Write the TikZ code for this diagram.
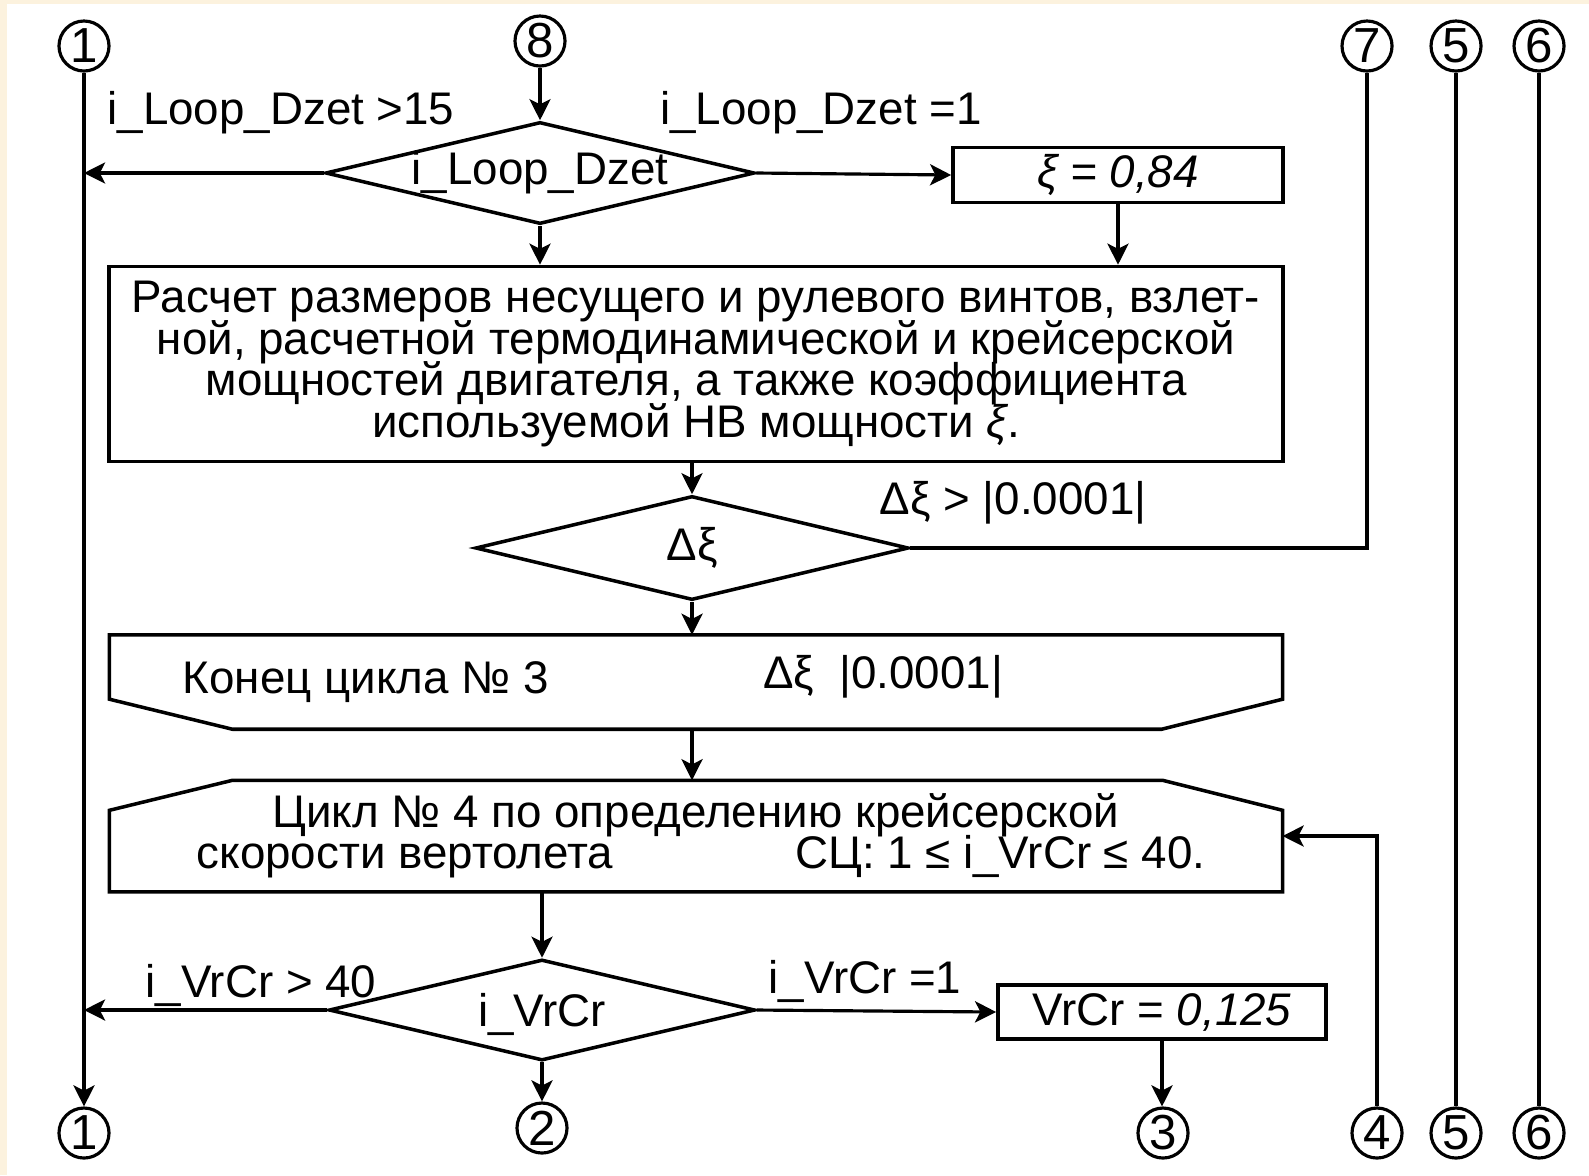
\documentclass[tikz,border=0pt]{standalone}
\usepackage{fontspec}
\setmainfont{Liberation Sans}
\usetikzlibrary{shapes.geometric,arrows.meta}
\definecolor{cream}{RGB}{252,242,222}
\newcommand\tightlines{\fontsize{13}{11.8}\selectfont\setlength{\lineskiplimit}{-20pt}}
\tikzset{
  blk/.style={draw, rectangle, line width=1pt, inner sep=0pt},
  decision/.style={draw, diamond, line width=1pt, inner sep=0pt},
  conn/.style={draw, circle, line width=0.9pt, inner sep=0pt, minimum size=0.5cm,
               font=\fontsize{14}{14}\selectfont},
  txt/.style={inner sep=0pt},
  tight/.style={font=\tightlines},
  line/.style={line width=0.9pt},
  arr/.style={line, -{Stealth[length=6pt, width=6pt, inset=1.5pt]}},
}
\begin{document}
\begin{tikzpicture}[x=0.01cm, y=-0.01cm, font=\fontsize{13}{12}\selectfont]
  \useasboundingbox (0,0) rectangle (1589,1175);
  \fill[cream] (0,0) rectangle (1589,1175);
  \fill[white] (7,4) rectangle (1589,1175);

  % connectors, top and bottom rows
  \node[conn] (c1t) at (84,46) {1};
  \node[conn] (c8) at (540,41) {8};
  \node[conn] (c7t) at (1367,46) {7};
  \node[conn] (c5t) at (1456,46) {5};
  \node[conn] (c6t) at (1539,46) {6};
  \node[conn] (c1b) at (84,1133) {1};
  \node[conn] (c2) at (542,1128) {2};
  \node[conn] (c3) at (1163,1133) {3};
  \node[conn] (c4) at (1377,1133) {4};
  \node[conn] (c5b) at (1456,1133) {5};
  \node[conn] (c6b) at (1539,1133) {6};

  % loop counter of Dzet
  \node[decision, minimum width=4.29cm, minimum height=1.02cm,
        label=center:{i\_Loop\_Dzet}] (dzet) at (540,173) {};
  \node[blk, minimum width=3.3cm, minimum height=0.55cm] (bxi) at (1118,175) {\textit{ξ = 0,84}};
  \node[txt] (lgt) at (281,113) {i\_Loop\_Dzet >15};
  \node[txt] (leq) at (821,113) {i\_Loop\_Dzet =1};

  \node[blk, tight, minimum width=11.73cm, minimum height=1.95cm, align=center] (calc) at (696,364)
    {Расчет размеров несущего и рулевого винтов, взлет-\\
     ной, расчетной термодинамической и крейсерской\\
     мощностей двигателя, а также коэффициента\\
     используемой НВ мощности \textit{ξ}.};

  \node[decision, minimum width=4.33cm, minimum height=1.04cm,
        label=center:{Δξ}] (dxi) at (692,548) {};
  \node[txt] (ldxi) at (1013,503) {Δξ > |0.0001|};

  % end of loop 3
  \node[minimum width=11.71cm, minimum height=0.93cm] (endl) at (696,682) {};
  \draw[line width=1pt] (endl.north west) -- (endl.north east)
    -- ([yshift=0.3cm]endl.south east) -- ([xshift=-1.21cm]endl.south east)
    -- ([xshift=1.23cm]endl.south west) -- ([yshift=0.3cm]endl.south west) -- cycle;
  \node[txt, anchor=west] (tendl) at (182,682) {Конец цикла № 3};
  \node[txt] (tendr) at (883,677) {Δξ~~|0.0001|};

  % loop 4
  \node[minimum width=11.71cm, minimum height=1.1cm] (cyc) at (696,836) {};
  \draw[line width=1pt] ([yshift=-0.3cm]cyc.north west) -- ([xshift=1.23cm]cyc.north west)
    -- ([xshift=-1.2cm]cyc.north east) -- ([yshift=-0.3cm]cyc.north east)
    -- (cyc.south east) -- (cyc.south west) -- cycle;
  \node[txt, anchor=base] (tcyc) at (696,827) {Цикл № 4 по определению крейсерской};
  \node[txt, anchor=base west] (tcycl) at (196,868) {скорости вертолета};
  \node[txt, anchor=base east] (tcycr) at (1206,868) {СЦ: 1 ≤ i\_VrCr ≤ 40.};

  \node[decision, minimum width=4.26cm, minimum height=1.01cm,
        label={[yshift=-0.04cm]center:i\_VrCr}] (vrcr) at (542,1010) {};
  \node[blk, minimum width=3.28cm, minimum height=0.54cm] (bvr) at (1162,1012) {VrCr = \textit{0,125}};
  \node[txt] (lvgt) at (261,985) {i\_VrCr > 40};
  \node[txt] (lveq) at (865,981) {i\_VrCr =1};

  % connections
  \draw[arr] (c1t) -- (c1b);
  \draw[line] (c5t) -- (c5b);
  \draw[line] (c6t) -- (c6b);
  \draw[arr] (c8) -- (dzet.north);
  \draw[arr] (dzet.west) -- (dzet.west -| c1t);
  \draw[arr] (dzet.east) -- (bxi.west);
  \draw[arr] (dzet.south) -- (dzet.south |- calc.north);
  \draw[arr] (bxi.south) -- (bxi.south |- calc.north);
  \draw[arr] (dxi.north |- calc.south) -- (dxi.north);
  \draw[line] (dxi.east) -| (c7t);
  \draw[arr] (dxi.south) -- (dxi.south |- endl.north);
  \draw[arr] (dxi.south |- endl.south) -- (dxi.south |- cyc.north);
  \draw[arr] (c4) |- (cyc.east);
  \draw[arr] (vrcr.north |- cyc.south) -- (vrcr.north);
  \draw[arr] (vrcr.west) -- (vrcr.west -| c1t);
  \draw[arr] (vrcr.east) -- (bvr.west);
  \draw[arr] (vrcr.south) -- (c2);
  \draw[arr] (bvr.south) -- (bvr.south |- c3.north);
\end{tikzpicture}
\end{document}
